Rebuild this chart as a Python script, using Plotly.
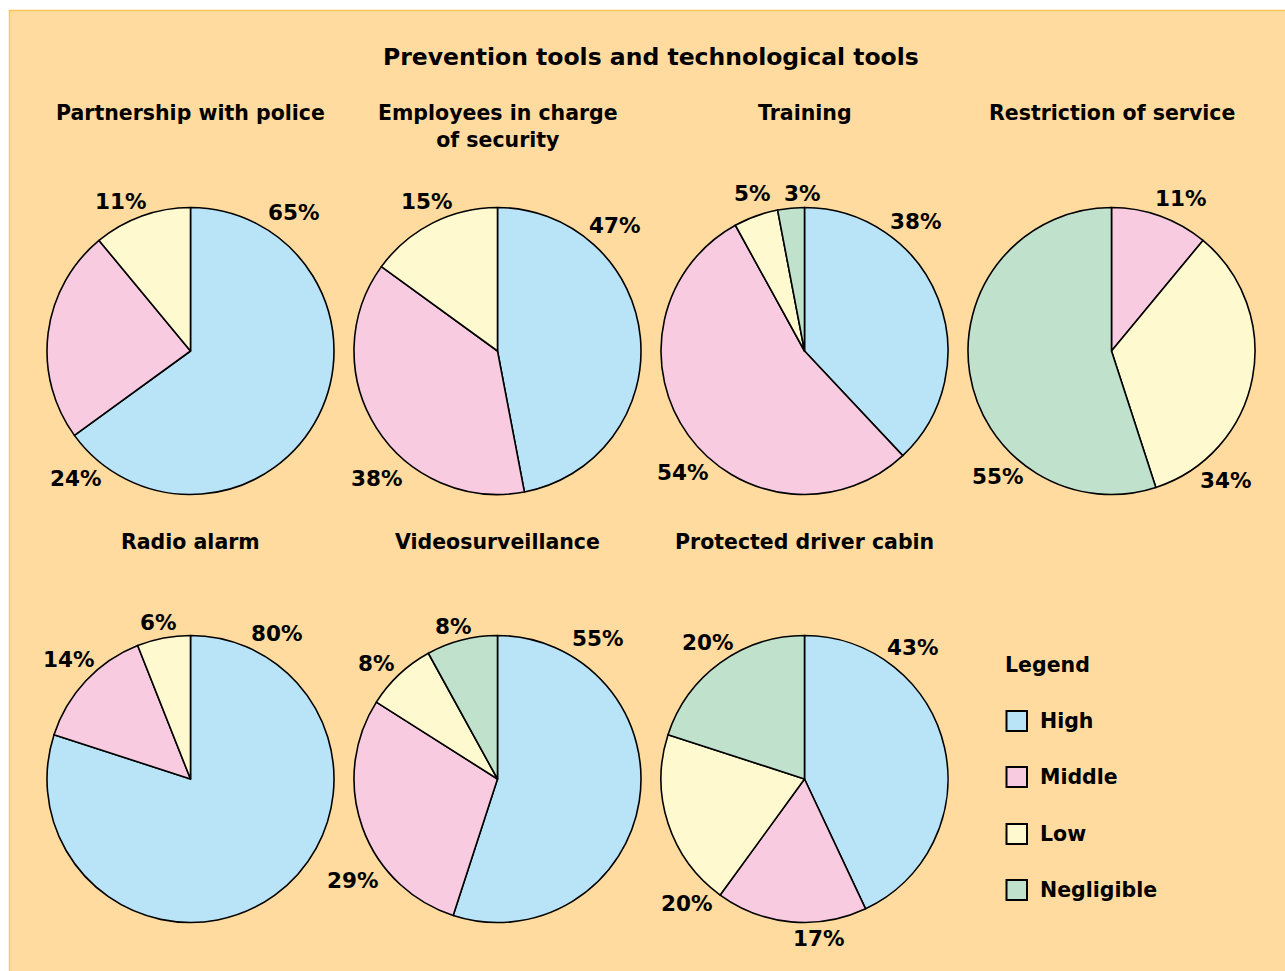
import plotly.graph_objects as go

W, H = 1285, 971

# ---------------- data ----------------
TITLE = "Prevention tools and technological tools"
CATEGORIES = ["High", "Middle", "Low", "Negligible"]

CHART_TITLES = [
    "Partnership with police",
    "Employees in charge<br>of security",
    "Training",
    "Restriction of service",
    "Radio alarm",
    "Videosurveillance",
    "Protected driver cabin",
]

# percentages per category (None = not present)
HIGH       = [65, 47, 38, None, 80, 55, 43]
MIDDLE     = [24, 38, 54, 11,   14, 29, 17]
LOW        = [11, 15, 5,  34,   6,  8,  20]
NEGLIGIBLE = [None, None, 3, 55, None, 8, 20]

# ---------------- styling / layout ----------------
COLORS = {"High": "#B9E4F8", "Middle": "#F8CBE0", "Low": "#FFF9CF", "Negligible": "#C0E2CC"}
BG = "#FFDB9F"
BORDER = "#FFC65A"
FONT = "DejaVu Sans"

CENTERS = [(190.5, 351), (497.5, 351), (804.5, 351), (1111.5, 351),
           (190.5, 779), (497.5, 779), (804.5, 779)]
RADIUS = 143.5
SUBTITLE_Y = [112, 112, 112, 112, 541, 541, 541]

# label offsets (px, relative to pie centre), in the order of present categories
LABEL_OFFSETS = [
    [(103, -138), (-115, 127), (-70, -150)],
    [(117, -126), (-121, 127), (-71, -150)],
    [(111, -130), (-122, 121), (-52, -157), (-2, -157)],
    [(69, -153), (114, 129), (-114, 125)],
    [(86, -146), (-122, -120), (-32, -157)],
    [(100, -141), (-145, 101), (-121, -116), (-44, -153)],
    [(108, -132), (14, 159), (-118, 124), (-97, -137)],
]

def px(x):
    return x / W

def py(y):
    return 1 - y / H

fig = go.Figure()
annotations = []
series = {"High": HIGH, "Middle": MIDDLE, "Low": LOW, "Negligible": NEGLIGIBLE}

for i, title in enumerate(CHART_TITLES):
    cx, cy = CENTERS[i]
    labels, values = [], []
    for cat in CATEGORIES:
        v = series[cat][i]
        if v is not None:
            labels.append(cat)
            values.append(v)
    fig.add_trace(go.Pie(
        labels=labels, values=values,
        sort=False, direction="clockwise", rotation=0,
        marker=dict(colors=[COLORS[c] for c in labels], line=dict(color="black", width=1.6)),
        textinfo="none", hoverinfo="label+value",
        showlegend=False,
        domain=dict(x=[px(cx - RADIUS), px(cx + RADIUS)], y=[py(cy + RADIUS), py(cy - RADIUS)]),
    ))
    for (dx, dy), v in zip(LABEL_OFFSETS[i], values):
        annotations.append(dict(
            x=px(cx + dx), y=py(cy + dy), xref="paper", yref="paper",
            text=f"<b>{v}%</b>", showarrow=False, xanchor="center", yanchor="middle",
            font=dict(family=FONT, size=21.5, color="black"),
        ))
    annotations.append(dict(
        x=px(cx), y=py(SUBTITLE_Y[i] - 13), xref="paper", yref="paper",
        text=f"<b>{title}</b>", showarrow=False, xanchor="center", yanchor="top",
        font=dict(family=FONT, size=20.5, color="black"), align="center",
    ))

annotations.append(dict(
    x=px(651), y=py(57), xref="paper", yref="paper", text=f"<b>{TITLE}</b>",
    showarrow=False, xanchor="center", yanchor="middle",
    font=dict(family=FONT, size=23.5, color="black"),
))

# legend
annotations.append(dict(
    x=px(1003), y=py(665), xref="paper", yref="paper", text="<b>Legend</b>",
    showarrow=False, xanchor="left", yanchor="middle",
    font=dict(family=FONT, size=20.5, color="black"),
))
shapes = [dict(type="rect", xref="paper", yref="paper", x0=px(9.5), y0=py(10.5), x1=px(1300), y1=py(990),
               fillcolor=BG, line=dict(color=BORDER, width=1.5), layer="below")]
LEGEND_Y = [721, 777, 834, 890]
for cat, ly in zip(CATEGORIES, LEGEND_Y):
    shapes.append(dict(type="rect", xref="paper", yref="paper",
                       x0=px(1006.5), x1=px(1027), y0=py(ly + 10), y1=py(ly - 10),
                       fillcolor=COLORS[cat], line=dict(color="black", width=2)))
    annotations.append(dict(
        x=px(1038), y=py(ly), xref="paper", yref="paper", text=f"<b>{cat}</b>",
        showarrow=False, xanchor="left", yanchor="middle",
        font=dict(family=FONT, size=20.5, color="black"),
    ))

fig.update_layout(
    width=W, height=H, margin=dict(l=0, r=0, t=0, b=0),
    paper_bgcolor="white", plot_bgcolor="white",
    annotations=annotations, shapes=shapes,
    font=dict(family=FONT),
)
fig.write_html("out.html")
